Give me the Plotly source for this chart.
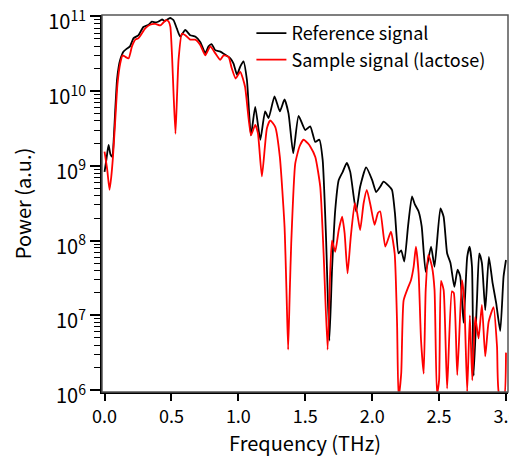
import numpy as np
import plotly.graph_objects as go

# Reference signal: frequency (THz) and log10(power)
ref_freq = [0.000, 0.015, 0.030, 0.045, 0.058, 0.070, 0.080, 0.093, 0.105, 0.117,
            0.142, 0.167, 0.190, 0.217, 0.254, 0.290, 0.330, 0.354, 0.380, 0.400,
            0.430, 0.450, 0.490, 0.516, 0.540, 0.566, 0.603, 0.640, 0.680, 0.715,
            0.753, 0.777, 0.800, 0.827, 0.865, 0.900, 0.940, 0.964, 0.990, 1.014,
            1.038, 1.064, 1.094, 1.126, 1.164, 1.200, 1.226, 1.270, 1.310, 1.345,
            1.375, 1.410, 1.450, 1.500, 1.537, 1.575, 1.605, 1.630, 1.655, 1.680,
            1.700, 1.724, 1.750, 1.780, 1.810, 1.836, 1.880, 1.910, 1.955, 2.000,
            2.030, 2.060, 2.085, 2.120, 2.148, 2.170, 2.197, 2.217, 2.240, 2.268,
            2.297, 2.320, 2.347, 2.370, 2.400, 2.440, 2.466, 2.510, 2.534, 2.560,
            2.585, 2.614, 2.638, 2.658, 2.683, 2.710, 2.728, 2.746, 2.758, 2.783,
            2.800, 2.820, 2.845, 2.872, 2.900, 2.927, 2.957, 2.982, 3.000]
ref_log = [8.92, 9.10, 9.28, 9.15, 9.12, 9.40, 9.75, 10.15, 10.32, 10.42,
           10.53, 10.57, 10.60, 10.71, 10.75, 10.86, 10.89, 10.93, 10.92, 10.93,
           10.96, 10.94, 10.98, 10.95, 10.84, 10.73, 10.82, 10.75, 10.73, 10.66,
           10.51, 10.60, 10.63, 10.55, 10.53, 10.49, 10.44, 10.37, 10.22, 10.33,
           10.40, 10.15, 9.41, 9.79, 9.35, 9.73, 9.64, 9.93, 9.73, 9.89,
           9.70, 9.17, 9.67, 9.48, 9.53, 9.32, 9.35, 9.08, 8.05, 6.66,
           7.61, 8.41, 8.81, 8.92, 9.04, 8.92, 8.39, 8.72, 8.98, 8.81,
           8.65, 8.72, 8.79, 8.74, 8.68, 8.37, 7.83, 7.87, 7.72, 8.19,
           8.59, 8.48, 8.39, 8.19, 7.58, 7.92, 7.65, 8.43, 8.32, 7.83,
           7.70, 7.38, 7.61, 7.52, 6.90, 7.78, 7.92, 7.65, 6.19, 7.20,
           7.83, 7.70, 7.07, 7.78, 7.43, 7.16, 6.79, 7.52, 7.74]

# Sample signal (lactose)
smp_freq = [0.000, 0.020, 0.037, 0.050, 0.063, 0.080, 0.097, 0.117, 0.135, 0.155,
            0.180, 0.205, 0.230, 0.254, 0.304, 0.340, 0.380, 0.416, 0.440, 0.460,
            0.480, 0.492, 0.505, 0.515, 0.530, 0.542, 0.553, 0.578, 0.603, 0.640,
            0.678, 0.715, 0.753, 0.790, 0.827, 0.865, 0.890, 0.927, 0.950, 0.980,
            1.014, 1.050, 1.094, 1.126, 1.146, 1.176, 1.213, 1.238, 1.276, 1.310,
            1.345, 1.360, 1.372, 1.384, 1.395, 1.425, 1.457, 1.487, 1.520, 1.537,
            1.575, 1.612, 1.637, 1.667, 1.687, 1.700, 1.724, 1.750, 1.775, 1.794,
            1.816, 1.840, 1.870, 1.886, 1.910, 1.936, 1.960, 1.990, 2.018, 2.043,
            2.060, 2.098, 2.140, 2.168, 2.186, 2.197, 2.217, 2.235, 2.270, 2.290,
            2.310, 2.327, 2.347, 2.365, 2.385, 2.400, 2.420, 2.447, 2.466, 2.484,
            2.500, 2.514, 2.534, 2.560, 2.596, 2.610, 2.636, 2.671, 2.688, 2.710,
            2.730, 2.748, 2.770, 2.795, 2.820, 2.845, 2.870, 2.907, 2.933, 2.948,
            2.985, 3.000]
smp_log = [9.19, 8.95, 8.68, 8.85, 9.12, 9.61, 10.10, 10.37, 10.48, 10.46,
           10.44, 10.60, 10.69, 10.71, 10.84, 10.89, 10.90, 10.88, 10.92, 10.95,
           10.93, 10.86, 10.45, 10.00, 9.43, 9.95, 10.42, 10.77, 10.75, 10.69,
           10.69, 10.62, 10.48, 10.60, 10.51, 10.42, 10.48, 10.46, 10.31, 10.17,
           10.26, 10.06, 9.41, 9.55, 9.44, 8.86, 9.50, 9.61, 9.52, 9.12,
           8.19, 7.30, 6.54, 7.30, 7.96, 9.03, 9.26, 9.35, 9.30, 9.26,
           9.12, 8.72, 7.83, 6.54, 7.61, 8.00, 7.85, 8.14, 8.32, 8.10,
           7.56, 8.05, 8.50, 8.39, 8.14, 8.50, 8.68, 8.45, 8.21, 8.37,
           8.39, 7.92, 8.12, 7.83, 6.89, 5.90, 6.22, 7.20, 7.38, 7.47,
           7.65, 7.92, 7.56, 6.67, 6.22, 7.34, 7.81, 7.65, 7.34, 5.95,
           6.13, 7.46, 7.34, 6.02, 7.32, 7.30, 6.20, 7.47, 7.20, 5.98,
           7.00, 6.13, 6.98, 6.69, 7.14, 6.45, 6.91, 7.11, 6.58, 5.95,
           5.90, 6.50]

x_ticks = [0.0, 0.5, 1.0, 1.5, 2.0, 2.5, 3.0]
y_exponents = [6, 7, 8, 9, 10, 11]

ref_power = 10 ** np.array(ref_log)
smp_power = 10 ** np.array(smp_log)

major_vals = [10 ** k for k in y_exponents]
major_text = [f"10<sup>{k}</sup>" for k in y_exponents]
minor_vals = [m * 10 ** k for k in y_exponents[:-1] for m in range(2, 10)]

font_name = "Noto Sans CJK JP"

fig = go.Figure()
fig.add_trace(go.Scatter(x=ref_freq, y=ref_power, mode="lines", name="Reference signal",
                         line=dict(color="black", width=1.8, shape="spline", smoothing=0.5)))
fig.add_trace(go.Scatter(x=smp_freq, y=smp_power, mode="lines", name="Sample signal (lactose)",
                         line=dict(color="#ff0000", width=1.8, shape="spline", smoothing=0.5)))

# the page body adds an 8px offset, so the figure is sized to fit inside the window
fig.update_layout(
    width=509, height=454,
    margin=dict(l=94, r=9, t=7, b=70, autoexpand=False),
    plot_bgcolor="white", paper_bgcolor="white",
    font=dict(family=font_name, size=17, color="black"),
    legend=dict(x=0.368, y=1.0, xanchor="left", yanchor="top",
                bgcolor="rgba(0,0,0,0)", font=dict(size=18), tracegroupgap=0),
    shapes=[dict(type="rect", xref="paper", yref="paper", x0=0, y0=0, x1=1, y1=1,
                 line=dict(color="#555555", width=1.5))],
)
fig.update_xaxes(
    range=[-0.019, 3.015], tickvals=x_ticks, tickformat=".1f", ticklabeloverflow="allow",
    ticks="outside", ticklen=7, tickwidth=1.5, tickcolor="black", tickfont=dict(size=18),
    showline=True, linecolor="black", linewidth=2, showgrid=False, zeroline=False,
    automargin=False, title=dict(text="Frequency (THz)", standoff=4),
)
fig.update_yaxes(
    type="log", range=[5.973, 11.02], tickvals=major_vals, ticktext=major_text,
    ticklabeloverflow="allow", ticklabelshift=6,
    ticks="outside", ticklen=10, tickwidth=1.5, tickcolor="black", tickfont=dict(size=20),
    minor=dict(tickvals=minor_vals, ticks="outside", ticklen=6, tickwidth=1.2, tickcolor="black"),
    showline=True, linecolor="black", linewidth=2, showgrid=False, zeroline=False,
    automargin=False, title=dict(text="Power (a.u.)", standoff=12),
)

fig.write_html("out.html")
